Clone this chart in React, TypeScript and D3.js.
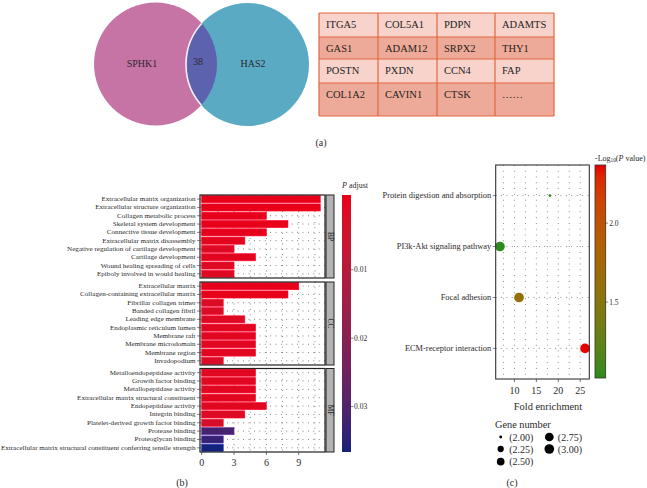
import React from "react";
import * as d3 from "d3";

// ---------- data ----------
const vennSets = ["SPHK1", "HAS2"];
const vennOverlap = 38;

const tableGenes = [
  ["ITGA5", "COL5A1", "PDPN", "ADAMTS"],
  ["GAS1", "ADAM12", "SRPX2", "THY1"],
  ["POSTN", "PXDN", "CCN4", "FAP"],
  ["COL1A2", "CAVIN1", "CTSK", "……"],
];

const bpTerms = [
  "Extracellular matrix organization",
  "Extracellular structure organization",
  "Collagen metabolic process",
  "Skeletal system development",
  "Connective tissue development",
  "Extracellular matrix disassembly",
  "Negative regulation of cartilage development",
  "Cartilage development",
  "Wound healing spreading of cells",
  "Epiboly involved in would healing",
];
const bpCounts = [11, 11, 6, 8, 6, 4, 3, 5, 3, 3];
const bpPadj = [0.00001, 0.00001, 0.0002, 0.00005, 0.0004, 0.001, 0.002, 0.0012, 0.002, 0.002];

const ccTerms = [
  "Extracellular matrix",
  "Collagen-containing extracellular matrix",
  "Fibrillar collagen trimer",
  "Banded collagen fibril",
  "Leading edge membrane",
  "Endoplasmic reticulum lumen",
  "Membrane raft",
  "Membrane microdomain",
  "Membrane region",
  "Invadopodium",
];
const ccCounts = [9, 8, 2, 2, 4, 5, 5, 5, 5, 2];
const ccPadj = [0.00001, 0.00002, 0.003, 0.003, 0.002, 0.0015, 0.0015, 0.0015, 0.0015, 0.003];

const mfTerms = [
  "Metalloendopeptidase activity",
  "Growth factor binding",
  "Metallopeptidase activity",
  "Extracellular matrix structural constituent",
  "Endopeptidase activity",
  "Integrin binding",
  "Platelet-derived growth factor binding",
  "Protease binding",
  "Proteoglycan binding",
  "Extracellular matrix structural constituent conferring tensile strength",
];
const mfCounts = [5, 5, 5, 5, 6, 4, 2, 3, 2, 2];
const mfPadj = [0.0015, 0.0015, 0.0015, 0.0015, 0.0015, 0.002, 0.004, 0.031, 0.033, 0.0357];

const goOntologies = ["BP", "CC", "MF"];
const goTicks = [0, 3, 6, 9];
const padjTicks = [0.01, 0.02, 0.03];

const keggPathways = [
  "Protein digestion and absorption",
  "PI3k-Akt signaling pathway",
  "Focal adhesion",
  "ECM-receptor interaction",
];
const keggFold = [18.1, 6.7, 11.05, 26.1];
const keggGeneNum = [2, 3, 3, 3];
const keggLogP = [1.1, 1.053, 1.62, 2.334];
const foldTicks = [10, 15, 20, 25];
const logPTicks = [1.5, 2.0];
const geneNumBreaks = [2.0, 2.25, 2.5, 2.75, 3.0];

// ---------- component ----------
export default function App() {
  const W = 647, H = 488;
  const font = "'Liberation Serif', 'Times New Roman', serif";
  const txt = "#2a2a2a";

  // ---- (a) venn ----
  const vennCircles = [
    { cx: 155.5, cy: 64, r: 61.5, fill: "#c673a6" },
    { cx: 247.5, cy: 64.5, r: 61.5, fill: "#5aaac4" },
  ];
  const colX = [319, 378, 437, 495, 554];
  const rowY = [13, 37, 59, 83, 116];
  const rowFill = ["#f7d3cb", "#eeaa98"];

  // ---- (b) GO bar chart ----
  const goGroups = [
    { name: goOntologies[0], terms: bpTerms, counts: bpCounts, padj: bpPadj, y: [195, 278] },
    { name: goOntologies[1], terms: ccTerms, counts: ccCounts, padj: ccPadj, y: [282, 365] },
    { name: goOntologies[2], terms: mfTerms, counts: mfCounts, padj: mfPadj, y: [368.5, 452] },
  ];
  const bx0 = 200, bx1 = 325;
  const xBar = d3.scaleLinear().domain([0, 11]).range([201.7, 201.7 + 11 * 10.78]);
  const allPadj = [...bpPadj, ...ccPadj, ...mfPadj];
  const pExt = d3.extent(allPadj) as [number, number];
  const padjColor = d3.scaleSequential(d3.interpolateLab("#e8001a", "#13227a")).domain(pExt);
  const cb1 = { x: 342, w: 9, y0: 195, y1: 452 };
  const cb1Len = cb1.y1 - cb1.y0;
  const cb1Scale = d3.scaleLinear().domain(pExt).range([cb1.y0 + cb1Len * 0.025, cb1.y1 - cb1Len * 0.025]);
  const gridX = d3.range(0, 11.5, 1.5);

  // ---- (c) KEGG dot plot ----
  const dp = { x0: 495.7, x1: 589.3, y0: 165, y1: 379 };
  const fExt = d3.extent(keggFold) as [number, number];
  const fPad = (fExt[1] - fExt[0]) * 0.05;
  const xDot = d3.scaleLinear().domain([fExt[0] - fPad, fExt[1] + fPad]).range([dp.x0, dp.x1]);
  const yDot = d3.scalePoint<string>().domain(keggPathways).range([dp.y0, dp.y1]).padding(0.6);
  const lExt = d3.extent(keggLogP) as [number, number];
  const logPColor = d3.scaleSequential(d3.interpolateLab("#2c8a1e", "#e60000")).domain(lExt);
  const cb2 = { x: 595, w: 10.7, y0: 165, y1: 378 };
  const cb2Len = cb2.y1 - cb2.y0;
  const cb2Scale = d3.scaleLinear().domain(lExt).range([cb2.y1 - cb2Len * 0.025, cb2.y0 + cb2Len * 0.025]);
  const sizeT = d3.scaleLinear().domain([2, 3]).range([0, 1]);
  const radius = (g: number) => 0.68 * (1 + 5 * Math.sqrt(Math.max(0, sizeT(g)))) + 0.75;
  const dotGridX = d3.range(7.5, 26, 2.5);

  const stops = (interp: (t: number) => string, n = 20) =>
    d3.range(n + 1).map((i) => <stop key={i} offset={`${(i / n) * 100}%`} stopColor={interp(i / n)} />);

  return (
    <svg width={W} height={H} viewBox={`0 0 ${W} ${H}`}
      style={{ position: "absolute", left: 0, top: 0, background: "#fff" }}
      fontFamily={font}>
      <defs>
        <clipPath id="pinkClip">
          <circle cx={vennCircles[0].cx} cy={vennCircles[0].cy} r={vennCircles[0].r} />
        </clipPath>
        <linearGradient id="padjGrad" x1="0" y1="0" x2="0" y2="1">
          {stops((t) => padjColor(pExt[0] + t * (pExt[1] - pExt[0])))}
        </linearGradient>
        <linearGradient id="logPGrad" x1="0" y1="1" x2="0" y2="0">
          {stops((t) => logPColor(lExt[0] + t * (lExt[1] - lExt[0])))}
        </linearGradient>
      </defs>
      <rect width={W} height={H} fill="#fff" />

      {/* ===== (a) ===== */}
      {vennCircles.map((c, i) => (
        <circle key={i} cx={c.cx} cy={c.cy} r={c.r} fill={c.fill} />
      ))}
      <g clipPath="url(#pinkClip)">
        <circle cx={vennCircles[1].cx} cy={vennCircles[1].cy} r={vennCircles[1].r}
          fill="#5c62ae" stroke="#f2f2f2" strokeWidth={1.6} />
      </g>
      <text x={142} y={63} fontSize={10} fill={txt} textAnchor="middle" dominantBaseline="central">{vennSets[0]}</text>
      <text x={198} y={61} fontSize={10} fill={txt} textAnchor="middle" dominantBaseline="central">{vennOverlap}</text>
      <text x={253} y={63} fontSize={10} fill={txt} textAnchor="middle" dominantBaseline="central">{vennSets[1]}</text>

      {tableGenes.map((row, ri) => (
        <g key={ri}>
          <rect x={colX[0]} y={rowY[ri]} width={colX[4] - colX[0]} height={rowY[ri + 1] - rowY[ri]}
            fill={rowFill[ri % 2]} />
          {row.map((g, ci) => (
            <text key={ci} x={colX[ci] + 7} y={rowY[ri] + 11} fontSize={10.5} fill="#1e1e1e"
              dominantBaseline="central">{g}</text>
          ))}
        </g>
      ))}
      {rowY.map((y, i) => (
        <line key={"h" + i} x1={colX[0]} x2={colX[4]} y1={y} y2={y} stroke="#e4673f" strokeWidth={1.2} />
      ))}
      {colX.map((x, i) => (
        <line key={"v" + i} x1={x} x2={x} y1={rowY[0]} y2={rowY[4]} stroke="#e4673f" strokeWidth={1.2} />
      ))}
      <text x={321} y={142} fontSize={10} fill={txt} textAnchor="middle" dominantBaseline="central">(a)</text>

      {/* ===== (b) ===== */}
      {goGroups.map((g) => {
        const y = d3.scaleBand<string>().domain(g.terms).range(g.y as [number, number])
          .paddingInner(0.14).paddingOuter(0.07);
        const cy = (t: string) => y(t)! + y.bandwidth() / 2;
        return (
          <g key={g.name}>
            <rect x={bx0} y={g.y[0]} width={bx1 - bx0} height={g.y[1] - g.y[0]} fill="#fff" />
            {gridX.map((v) => (
              <line key={v} x1={xBar(v)} x2={xBar(v)} y1={g.y[0]} y2={g.y[1]}
                stroke="#444" strokeWidth={0.8} strokeDasharray="0.8,4.6" />
            ))}
            {g.terms.map((t) => (
              <line key={t} x1={bx0} x2={bx1} y1={cy(t)} y2={cy(t)}
                stroke="#444" strokeWidth={0.8} strokeDasharray="0.8,4.6" />
            ))}
            {g.terms.map((t, i) => (
              <rect key={t} x={xBar(0)} y={y(t)!} width={xBar(g.counts[i]) - xBar(0)} height={y.bandwidth()}
                fill={padjColor(g.padj[i])} stroke={d3.color(padjColor(g.padj[i]))!.brighter(1.3).formatHex()}
                strokeWidth={0.6} />
            ))}
            <rect x={bx0} y={g.y[0]} width={bx1 - bx0} height={g.y[1] - g.y[0]} fill="none"
              stroke="#222" strokeWidth={1.2} />
            {g.terms.map((t) => (
              <g key={t}>
                <line x1={bx0 - 3} x2={bx0} y1={cy(t)} y2={cy(t)} stroke="#333" strokeWidth={0.6} />
                <text x={bx0 - 4.5} y={cy(t)} fontSize={7.1} fill={txt}
                  textAnchor="end" dominantBaseline="central">{t}</text>
              </g>
            ))}
            <rect x={bx1 + 1} y={g.y[0]} width={8} height={g.y[1] - g.y[0]} fill="#b3b3b3"
              stroke="#222" strokeWidth={1} />
            <text transform={`translate(${bx1 + 5},${(g.y[0] + g.y[1]) / 2}) rotate(90)`} fontSize={7.5}
              fill="#1a1a1a" textAnchor="middle" dominantBaseline="central">{g.name}</text>
          </g>
        );
      })}
      {goTicks.map((v) => (
        <g key={v}>
          <line x1={xBar(v)} x2={xBar(v)} y1={452} y2={455} stroke="#333" strokeWidth={0.7} />
          <text x={xBar(v)} y={462} fontSize={10} fill={txt} textAnchor="middle" dominantBaseline="central">{v}</text>
        </g>
      ))}
      <text x={342} y={188} fontSize={8} fill={txt}><tspan fontStyle="italic">P</tspan> adjust</text>
      <rect x={cb1.x} y={cb1.y0} width={cb1.w} height={cb1Len} fill="url(#padjGrad)" />
      {padjTicks.map((v) => (
        <g key={v}>
          <line x1={cb1.x + cb1.w} x2={cb1.x + cb1.w + 2.5} y1={cb1Scale(v)} y2={cb1Scale(v)} stroke="#333" strokeWidth={0.6} />
          <text x={cb1.x + cb1.w + 3} y={cb1Scale(v)} fontSize={7.5} fill={txt} dominantBaseline="central">{v.toFixed(2)}</text>
        </g>
      ))}
      <text x={182} y={482} fontSize={10} fill={txt} textAnchor="middle" dominantBaseline="central">(b)</text>

      {/* ===== (c) ===== */}
      <rect x={dp.x0} y={dp.y0} width={dp.x1 - dp.x0} height={dp.y1 - dp.y0} fill="#fff" />
      {dotGridX.map((v) => (
        <line key={v} x1={xDot(v)} x2={xDot(v)} y1={dp.y0} y2={dp.y1}
          stroke="#555" strokeWidth={0.8} strokeDasharray="0.8,5" />
      ))}
      {keggPathways.map((p) => (
        <line key={p} x1={dp.x0} x2={dp.x1} y1={yDot(p)!} y2={yDot(p)!}
          stroke="#555" strokeWidth={0.8} strokeDasharray="0.8,4.6" />
      ))}
      {keggPathways.map((p, i) => (
        <circle key={p} cx={xDot(keggFold[i])} cy={yDot(p)!} r={radius(keggGeneNum[i])}
          fill={logPColor(keggLogP[i])} />
      ))}
      <rect x={dp.x0} y={dp.y0} width={dp.x1 - dp.x0} height={dp.y1 - dp.y0} fill="none"
        stroke="#333" strokeWidth={1.1} />
      {keggPathways.map((p) => (
        <g key={p}>
          <line x1={dp.x0 - 3} x2={dp.x0} y1={yDot(p)!} y2={yDot(p)!} stroke="#333" strokeWidth={0.6} />
          <text x={dp.x0 - 4.5} y={yDot(p)!} fontSize={8.4} fill={txt} textAnchor="end"
            dominantBaseline="central">{p}</text>
        </g>
      ))}
      {foldTicks.map((v) => (
        <g key={v}>
          <line x1={xDot(v)} x2={xDot(v)} y1={dp.y1} y2={dp.y1 + 3} stroke="#333" strokeWidth={0.7} />
          <text x={xDot(v)} y={dp.y1 + 11} fontSize={10} fill={txt} textAnchor="middle"
            dominantBaseline="central">{v}</text>
        </g>
      ))}
      <text x={548} y={406} fontSize={10.4} fill={txt} textAnchor="middle" dominantBaseline="central">Fold enrichment</text>
      <text x={595} y={158} fontSize={8} fill={txt} dominantBaseline="central">
        -Log<tspan fontSize={5.3} dy={2}>10</tspan><tspan dy={-2}>(</tspan><tspan fontStyle="italic">P</tspan> value)
      </text>
      <rect x={cb2.x} y={cb2.y0} width={cb2.w} height={cb2Len} fill="url(#logPGrad)" stroke="#333" strokeWidth={0.8} />
      {logPTicks.map((v) => (
        <g key={v}>
          <line x1={cb2.x + cb2.w} x2={cb2.x + cb2.w + 2.5} y1={cb2Scale(v)} y2={cb2Scale(v)} stroke="#333" strokeWidth={0.6} />
          <text x={cb2.x + cb2.w + 3.5} y={cb2Scale(v)} fontSize={7.5} fill={txt} dominantBaseline="central">{v.toFixed(1)}</text>
        </g>
      ))}
      <text x={495} y={424} fontSize={10.3} fill={txt} dominantBaseline="central">Gene number</text>
      {geneNumBreaks.map((b, i) => {
        const col = i < 3 ? 0 : 1;
        const row = i < 3 ? i : i - 3;
        const cx = col === 0 ? 500.7 : 549.3;
        const cy = [437, 449, 461.7][row];
        return (
          <g key={b}>
            <circle cx={cx} cy={cy} r={radius(b)} fill="#000" />
            <text x={cx + 8.5} y={cy} fontSize={10} fill={txt} dominantBaseline="central">({b.toFixed(2)})</text>
          </g>
        );
      })}
      <text x={512} y={482.5} fontSize={10} fill={txt} textAnchor="middle" dominantBaseline="central">(c)</text>
    </svg>
  );
}
